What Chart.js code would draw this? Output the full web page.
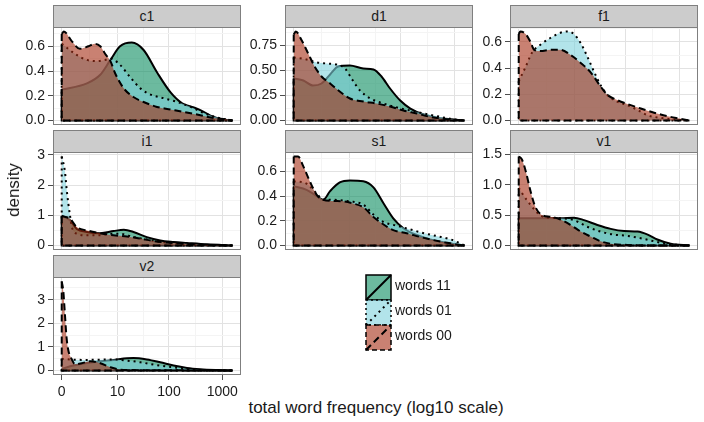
<!DOCTYPE html>
<html>
<head>
<meta charset="utf-8">
<script src="https://cdn.jsdelivr.net/npm/chart.js@4/dist/chart.umd.min.js"></script>
<style>
  body { margin: 0; background: #fff; width: 704px; height: 422px; position: relative; overflow: hidden;
         font-family: "Liberation Sans", Arial, sans-serif; color: #1a1a1a; }
  canvas { position: absolute; }
  .strip { position: absolute; height: 23px; background: #cccccc; border: 1px solid #7f7f7f; box-sizing: border-box;
           text-align: center; font-size: 14px; line-height: 21px; }
  .ttl { position: absolute; font-size: 17px; white-space: nowrap; }
  .lg { position: absolute; font-size: 14px; white-space: nowrap; }
</style>
</head>
<body>
<script>
// groups, drawn in this order (words 00 ends up on top)
const groups = ['words 11', 'words 01', 'words 00'];

// x is log10(frequency + 1)
const xTickValues = [0, 10, 100, 1000];
const xTickLabels = ['0', '10', '100', '1000'];

// densities: [log10(freq+1), density]
const c1_w11 = [[0,0.25],[0.47,0.30],[0.72,0.37],[0.91,0.49],[1.09,0.60],[1.31,0.63],[1.53,0.57],[1.78,0.39],[2.03,0.23],[2.25,0.14],[2.47,0.105],[2.59,0.084],[2.78,0.04],[3.0,0.01],[3.19,0]];
const c1_w01 = [[0,0.62],[0.06,0.60],[0.28,0.53],[0.47,0.49],[0.66,0.48],[0.81,0.49],[0.91,0.50],[1.09,0.45],[1.28,0.35],[1.47,0.26],[1.66,0.21],[1.91,0.18],[2.16,0.15],[2.41,0.11],[2.66,0.06],[2.91,0.024],[3.19,0]];
const c1_w00 = [[0,0.70],[0.04,0.72],[0.19,0.64],[0.34,0.58],[0.5,0.60],[0.62,0.62],[0.72,0.60],[0.81,0.54],[0.91,0.48],[1.0,0.38],[1.16,0.26],[1.34,0.19],[1.53,0.15],[1.78,0.11],[2.03,0.09],[2.28,0.07],[2.59,0.043],[2.84,0.02],[3.09,0.008],[3.19,0]];

const d1_w11 = [[0,0.42],[0.18,0.40],[0.36,0.35],[0.52,0.37],[0.68,0.46],[0.83,0.54],[1.05,0.55],[1.3,0.52],[1.49,0.51],[1.64,0.44],[1.8,0.32],[1.99,0.20],[2.18,0.12],[2.43,0.06],[2.68,0.027],[2.99,0.01],[3.19,0]];
const d1_w01 = [[0,0.63],[0.24,0.61],[0.43,0.58],[0.61,0.57],[0.8,0.56],[0.96,0.52],[1.08,0.42],[1.24,0.30],[1.43,0.22],[1.68,0.17],[1.93,0.13],[2.18,0.10],[2.43,0.07],[2.68,0.044],[2.93,0.017],[3.19,0]];
const d1_w00 = [[0,0.86],[0.04,0.89],[0.14,0.81],[0.27,0.67],[0.39,0.54],[0.52,0.44],[0.68,0.37],[0.86,0.29],[1.05,0.22],[1.3,0.19],[1.55,0.17],[1.8,0.14],[2.05,0.10],[2.3,0.07],[2.55,0.037],[2.86,0.013],[3.19,0]];

const f1_w11 = [];
const f1_w01 = [[0,0.30],[0.13,0.41],[0.25,0.52],[0.41,0.58],[0.59,0.63],[0.78,0.67],[0.91,0.68],[1.03,0.66],[1.16,0.59],[1.28,0.49],[1.41,0.37],[1.53,0.27],[1.66,0.195],[1.84,0.144],[2.03,0.118],[2.22,0.08],[2.41,0.04],[2.66,0.02],[2.91,0.008],[3.19,0]];
const f1_w00 = [[0,0.66],[0.03,0.68],[0.13,0.66],[0.22,0.60],[0.29,0.54],[0.41,0.53],[0.59,0.54],[0.78,0.54],[0.97,0.50],[1.16,0.44],[1.34,0.37],[1.53,0.26],[1.66,0.195],[1.84,0.156],[2.03,0.126],[2.28,0.092],[2.53,0.06],[2.78,0.033],[3.03,0.013],[3.19,0]];

const i1_w11 = [[0,0.99],[0.16,0.83],[0.28,0.55],[0.47,0.45],[0.72,0.41],[0.97,0.48],[1.16,0.52],[1.34,0.45],[1.59,0.28],[1.84,0.17],[2.09,0.12],[2.34,0.087],[2.72,0.04],[3.19,0]];
const i1_w01 = [[0,2.95],[0.06,2.45],[0.09,1.9],[0.125,1.37],[0.16,0.93],[0.19,0.61],[0.28,0.39],[0.47,0.34],[0.72,0.34],[0.91,0.39],[1.09,0.39],[1.34,0.28],[1.59,0.2],[1.84,0.12],[2.22,0.065],[2.59,0.03],[3.19,0]];
const i1_w00 = [[0,0.98],[0.16,0.88],[0.28,0.61],[0.47,0.5],[0.72,0.41],[0.97,0.34],[1.22,0.30],[1.47,0.23],[1.72,0.15],[1.97,0.1],[2.34,0.054],[2.72,0.02],[3.19,0]];

const s1_w11 = [[0,0.48],[0.24,0.45],[0.43,0.40],[0.55,0.37],[0.68,0.44],[0.86,0.51],[1.05,0.526],[1.3,0.52],[1.49,0.47],[1.68,0.34],[1.86,0.22],[2.05,0.14],[2.3,0.085],[2.55,0.05],[2.8,0.027],[3.11,0.005],[3.19,0]];
const s1_w01 = [[0,0.52],[0.24,0.50],[0.43,0.42],[0.55,0.37],[0.68,0.37],[1.05,0.357],[1.3,0.33],[1.49,0.25],[1.68,0.19],[1.93,0.16],[2.18,0.13],[2.43,0.10],[2.68,0.076],[2.93,0.05],[3.1,0.02],[3.19,0]];
const s1_w00 = [[0,0.72],[0.08,0.72],[0.18,0.64],[0.3,0.52],[0.43,0.41],[0.55,0.37],[0.74,0.36],[0.93,0.357],[1.11,0.34],[1.3,0.31],[1.49,0.23],[1.68,0.17],[1.86,0.125],[2.11,0.1],[2.36,0.07],[2.61,0.044],[2.86,0.022],[3.19,0]];

const v1_w11 = [[0,0.45],[0.47,0.45],[0.78,0.45],[1.03,0.46],[1.22,0.42],[1.47,0.34],[1.72,0.275],[1.97,0.24],[2.22,0.23],[2.41,0.18],[2.59,0.10],[2.84,0.03],[3.19,0]];
const v1_w01 = [[0,0.95],[0.16,0.74],[0.47,0.47],[0.78,0.45],[1.03,0.42],[1.28,0.31],[1.53,0.23],[1.78,0.18],[2.03,0.16],[2.28,0.12],[2.53,0.07],[2.78,0.027],[3.19,0]];
const v1_w00 = [[0,1.47],[0.06,1.42],[0.13,1.23],[0.22,0.9],[0.31,0.64],[0.44,0.5],[0.59,0.475],[0.78,0.43],[0.97,0.34],[1.16,0.23],[1.34,0.15],[1.53,0.07],[1.72,0.03],[2.03,0.01],[2.66,0],[3.19,0]];

const v2_w11 = [[0,0.07],[0.22,0.21],[0.47,0.32],[0.72,0.39],[0.97,0.45],[1.22,0.52],[1.34,0.53],[1.59,0.47],[1.84,0.35],[2.09,0.21],[2.34,0.11],[2.59,0.056],[2.91,0.02],[3.19,0]];
const v2_w01 = [[0,0.5],[0.22,0.46],[0.47,0.45],[0.72,0.46],[0.97,0.47],[1.22,0.42],[1.47,0.35],[1.72,0.25],[1.97,0.17],[2.22,0.10],[2.47,0.04],[2.91,0.01],[3.19,0]];
const v2_w00 = [[0,3.77],[0.03,3.35],[0.06,2.37],[0.09,1.4],[0.125,0.84],[0.17,0.56],[0.25,0.27],[0.375,0.31],[0.53,0.39],[0.72,0.31],[0.91,0.14],[1.09,0.04],[1.34,0.02],[2.0,0.01],[3.19,0]];

// y ticks per facet
const c1_yTicks = [0, 0.2, 0.4, 0.6],   c1_yLabels = ['0.0', '0.2', '0.4', '0.6'];
const d1_yTicks = [0, 0.25, 0.5, 0.75], d1_yLabels = ['0.00', '0.25', '0.50', '0.75'];
const f1_yTicks = [0, 0.2, 0.4, 0.6],   f1_yLabels = ['0.0', '0.2', '0.4', '0.6'];
const i1_yTicks = [0, 1, 2, 3],         i1_yLabels = ['0', '1', '2', '3'];
const s1_yTicks = [0, 0.2, 0.4, 0.6],   s1_yLabels = ['0.0', '0.2', '0.4', '0.6'];
const v1_yTicks = [0, 0.5, 1, 1.5],     v1_yLabels = ['0.0', '0.5', '1.0', '1.5'];
const v2_yTicks = [0, 1, 2, 3],         v2_yLabels = ['0', '1', '2', '3'];

const panels = [
  { name: 'c1', col: 0, row: 0, series: [c1_w11, c1_w01, c1_w00], yTicks: c1_yTicks, yLabels: c1_yLabels },
  { name: 'd1', col: 1, row: 0, series: [d1_w11, d1_w01, d1_w00], yTicks: d1_yTicks, yLabels: d1_yLabels },
  { name: 'f1', col: 2, row: 0, series: [f1_w11, f1_w01, f1_w00], yTicks: f1_yTicks, yLabels: f1_yLabels },
  { name: 'i1', col: 0, row: 1, series: [i1_w11, i1_w01, i1_w00], yTicks: i1_yTicks, yLabels: i1_yLabels },
  { name: 's1', col: 1, row: 1, series: [s1_w11, s1_w01, s1_w00], yTicks: s1_yTicks, yLabels: s1_yLabels },
  { name: 'v1', col: 2, row: 1, series: [v1_w11, v1_w01, v1_w00], yTicks: v1_yTicks, yLabels: v1_yLabels },
  { name: 'v2', col: 0, row: 2, series: [v2_w11, v2_w01, v2_w00], yTicks: v2_yTicks, yLabels: v2_yLabels, xAxis: true }
];

// looks
const fills = ['rgba(10,140,95,0.6)', 'rgba(127,210,220,0.6)', 'rgba(165,45,20,0.6)'];
const dashes = [[], [2, 4], [7, 4]];

const colLeft = [53, 285, 510];
const rowTop = [27, 152, 277];
const PW = 188, PH = 98, AXW = 50, XAH = 30, STRIP = 22, PAD = 9;
const X_MIN = -0.163, X_MAX = 3.35;

Chart.defaults.font.family = '"Liberation Sans", Arial, sans-serif';
Chart.defaults.font.size = 14;
Chart.defaults.color = '#1a1a1a';

const u = v => Math.log10(v + 1);
const xMajor = xTickValues.map(u);
const xMinor = [];
for (let i = 1; i < xMajor.length; i++) xMinor.push((xMajor[i - 1] + xMajor[i]) / 2);

const panelBorder = {
  id: 'panelBorder',
  afterDraw(chart) {
    const a = chart.chartArea, c = chart.ctx;
    c.save();
    c.strokeStyle = '#7f7f7f';
    c.lineWidth = 1;
    c.strokeRect(a.left + 0.5, a.top + 0.5, a.right - a.left - 1, a.bottom - a.top - 1);
    c.restore();
  }
};

panels.forEach(p => {
  const padB = p.xAxis ? 0 : PAD;
  const H = PAD + PH + (p.xAxis ? XAH : padB);
  const W = AXW + PW;
  const cv = document.createElement('canvas');
  cv.width = W; cv.height = H;
  cv.style.width = W + 'px'; cv.style.height = H + 'px';
  cv.style.left = (colLeft[p.col] - AXW) + 'px';
  cv.style.top = (rowTop[p.row] - PAD) + 'px';
  document.body.appendChild(cv);

  const st = document.createElement('div');
  st.className = 'strip';
  st.style.left = colLeft[p.col] + 'px';
  st.style.top = (rowTop[p.row] - STRIP) + 'px';
  st.style.width = PW + 'px';
  st.textContent = p.name;
  document.body.appendChild(st);

  let peak = 0;
  p.series.forEach(s => s.forEach(d => { if (d[1] > peak) peak = d[1]; }));
  const yMin = -0.05 * peak, yMax = 1.05 * peak;
  const step = p.yTicks[1] - p.yTicks[0];
  const yMinor = [];
  for (let v = step / 2; v < yMax; v += step) yMinor.push(v);

  const datasets = [];
  p.series.forEach((s, g) => {
    if (!s.length) return;
    datasets.push({
      label: groups[g],
      data: s.map(d => ({ x: d[0], y: d[1] })),
      order: (2 - g) * 2 + 2,
      fill: 'origin',
      backgroundColor: fills[g],
      borderColor: '#000',
      borderWidth: 2,
      borderDash: dashes[g],
      cubicInterpolationMode: 'monotone',
      pointRadius: 0
    });
    // vertical edge at 0 and the baseline, like the density outline
    datasets.push({
      label: groups[g] + ' edge',
      data: [{ x: s[0][0], y: s[0][1] }, { x: s[0][0], y: 0 }, { x: s[s.length - 1][0], y: 0 }],
      order: (2 - g) * 2 + 1,
      fill: false,
      borderColor: '#000',
      borderWidth: 2,
      borderDash: dashes[g],
      tension: 0,
      pointRadius: 0
    });
  });

  const isMinorX = v => xMinor.some(m => Math.abs(m - v) < 1e-9);
  const isMinorY = v => yMinor.some(m => Math.abs(m - v) < 1e-9);

  new Chart(cv, {
    type: 'line',
    data: { datasets },
    plugins: [panelBorder],
    options: {
      responsive: false,
      animation: false,
      events: [],
      layout: { padding: { top: PAD, bottom: padB, left: 0, right: 0 }, autoPadding: false },
      plugins: { legend: { display: false }, tooltip: { enabled: false } },
      scales: {
        x: {
          type: 'linear', min: X_MIN, max: X_MAX,
          afterBuildTicks: sc => { sc.ticks = xMinor.concat(xMajor).map(v => ({ value: v })); },
          afterFit: sc => { sc.height = p.xAxis ? XAH : 0; sc.paddingLeft = 0; sc.paddingRight = 0; },
          border: { display: false },
          grid: {
            color: ctx => (ctx.tick && isMinorX(ctx.tick.value)) ? '#f4f4f4' : '#e2e2e2',
            tickColor: ctx => (ctx.tick && isMinorX(ctx.tick.value)) ? 'rgba(0,0,0,0)' : '#4d4d4d',
            drawTicks: !!p.xAxis, tickLength: 5
          },
          ticks: {
            display: !!p.xAxis, autoSkip: false, maxRotation: 0, padding: 4,
            callback: v => { const i = xMajor.findIndex(m => Math.abs(m - v) < 1e-9); return i >= 0 ? xTickLabels[i] : ''; }
          }
        },
        y: {
          type: 'linear', min: yMin, max: yMax,
          afterBuildTicks: sc => { sc.ticks = yMinor.concat(p.yTicks).map(v => ({ value: v })); },
          afterFit: sc => { sc.width = AXW; sc.paddingTop = 0; sc.paddingBottom = 0; },
          border: { display: false },
          grid: {
            color: ctx => (ctx.tick && isMinorY(ctx.tick.value)) ? '#f4f4f4' : '#e2e2e2',
            tickColor: ctx => (ctx.tick && isMinorY(ctx.tick.value)) ? 'rgba(0,0,0,0)' : '#4d4d4d',
            tickLength: 5
          },
          ticks: {
            autoSkip: false, padding: 3,
            callback: v => { const i = p.yTicks.indexOf(v); return i >= 0 ? p.yLabels[i] : ''; }
          }
        }
      }
    }
  });
});
</script>

<div class="ttl" style="left:14px;top:190px;transform:translate(-50%,-50%) rotate(-90deg);">density</div>
<div class="ttl" style="left:376px;top:408px;transform:translate(-50%,-50%);">total word frequency (log10 scale)</div>

<svg style="position:absolute;left:364px;top:273px" width="29" height="79">
  <rect x="2" y="2" width="25" height="25" fill="rgba(10,140,95,0.6)" stroke="#000" stroke-width="1.5"/>
  <line x1="2" y1="27" x2="27" y2="2" stroke="#000" stroke-width="2"/>
  <rect x="2" y="27" width="25" height="25" fill="rgba(127,210,220,0.6)" stroke="#000" stroke-width="1.5" stroke-dasharray="2 3"/>
  <line x1="2" y1="52" x2="27" y2="27" stroke="#000" stroke-width="2" stroke-dasharray="2 4"/>
  <rect x="2" y="52" width="25" height="25" fill="rgba(165,45,20,0.6)" stroke="#000" stroke-width="1.5" stroke-dasharray="5 3"/>
  <line x1="2" y1="77" x2="27" y2="52" stroke="#000" stroke-width="2" stroke-dasharray="7 4"/>
</svg>
<div class="lg" style="left:395px;top:277px;">words 11</div>
<div class="lg" style="left:395px;top:302px;">words 01</div>
<div class="lg" style="left:395px;top:327px;">words 00</div>
</body>
</html>
